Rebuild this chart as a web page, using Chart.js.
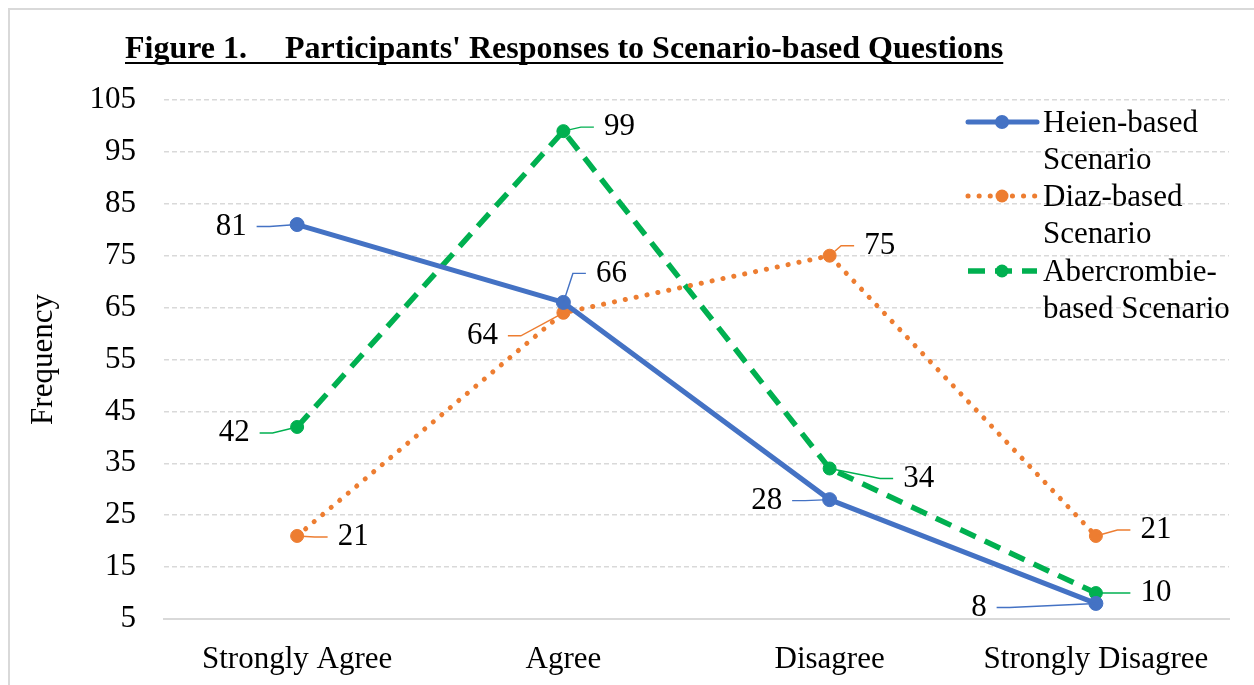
<!DOCTYPE html>
<html>
<head>
<meta charset="utf-8">
<script src="https://cdn.jsdelivr.net/npm/chart.js@4.4.1/dist/chart.umd.min.js"></script>
<style>
body{margin:0;background:#fff}
</style>
</head>
<body>
<canvas id="chart" width="1254" height="685"></canvas>
<script>
// data
const categories = ['Strongly Agree','Agree','Disagree','Strongly Disagree']
const heien = [81,66,28,8]
const diaz = [21,64,75,21]
const abercrombie = [42,99,34,10]
const seriesNames = [
    ['Heien-based','Scenario'],
    ['Diaz-based','Scenario'],
    ['Abercrombie-','based Scenario']
]
const yMin = 5
const yMax = 105
const yStep = 10
const titleLeft = 'Figure 1.'
const titleRight = "Participants' Responses to Scenario-based Questions"
const yTitle = 'Frequency'

// styling
const serif = "'Liberation Serif', 'Times New Roman', serif"
const colors = ['#4472C4','#ED7D31','#00B050']
const dashes = [[], [0.1,11], [17,10]]
const caps = ['round','round','butt']
const widths = [5,5,5.5]
const radii = [7,6.5,6.5]

// where each value label sits relative to its point (px)
const labelOffsets = [
    [[-66,2],[48,-29],[-63,1],[-117,4]],
    [[56,1],[-81,23],[50,-10],[60,-6]],
    [[-63,6],[56,-4],[89,10],[60,0]]
]

function makeSet(i, values){
    return {
        label: seriesNames[i].join(' '),
        data: values,
        borderColor: colors[i],
        backgroundColor: colors[i],
        borderWidth: widths[i],
        borderDash: dashes[i],
        borderCapStyle: caps[i],
        borderJoinStyle: 'round',
        pointRadius: radii[i],
        pointBackgroundColor: colors[i],
        pointBorderColor: colors[i],
        pointBorderWidth: 1,
        tension: 0
    }
}

const decorations = {
    id: 'decorations',
    beforeDraw(chart){
        const ctx = chart.ctx
        ctx.save()
        ctx.fillStyle = '#fff'
        ctx.fillRect(0,0,chart.width,chart.height)
        ctx.strokeStyle = '#d9d9d9'
        ctx.lineWidth = 2
        ctx.strokeRect(9,9,chart.width+20,chart.height+20)
        ctx.restore()
    },
    afterDatasetsDraw(chart){
        const ctx = chart.ctx
        const area = chart.chartArea
        ctx.save()

        // title
        ctx.fillStyle = '#000'
        ctx.font = 'bold 32px ' + serif
        ctx.textBaseline = 'alphabetic'
        ctx.textAlign = 'left'
        ctx.fillText(titleLeft, 125, 58)
        ctx.fillText(titleRight, 285, 58)
        const titleEnd = 285 + ctx.measureText(titleRight).width
        ctx.fillRect(125, 62, titleEnd - 125, 2)

        // y axis title
        ctx.font = '31px ' + serif
        ctx.translate(44, (area.top + area.bottom) / 2)
        ctx.rotate(-Math.PI / 2)
        ctx.textAlign = 'center'
        ctx.textBaseline = 'middle'
        ctx.fillText(yTitle, 0, 0)
        ctx.setTransform(1,0,0,1,0,0)

        // value labels with leader lines
        ctx.font = '31px ' + serif
        chart.data.datasets.forEach((ds, i) => {
            const meta = chart.getDatasetMeta(i)
            meta.data.forEach((p, j) => {
                const text = String(ds.data[j])
                const off = labelOffsets[i][j]
                const lx = p.x + off[0]
                const ly = p.y + off[1]
                const w = ctx.measureText(text).width
                const side = off[0] > 0 ? -1 : 1
                const edge = lx + side * (w / 2 + 10)
                const knee = edge + side * 13
                ctx.strokeStyle = colors[i]
                ctx.lineWidth = 1.4
                ctx.setLineDash([])
                ctx.beginPath()
                ctx.moveTo(edge, ly)
                ctx.lineTo(knee, ly)
                ctx.lineTo(p.x, p.y)
                ctx.stroke()
                ctx.fillStyle = '#000'
                ctx.textAlign = 'center'
                ctx.textBaseline = 'middle'
                ctx.fillText(text, lx, ly)
            })
        })

        // legend
        const rows = [122,196,271]
        seriesNames.forEach((names, i) => {
            const y = rows[i]
            ctx.strokeStyle = colors[i]
            ctx.lineWidth = widths[i]
            ctx.lineCap = caps[i]
            ctx.setLineDash(dashes[i])
            ctx.beginPath()
            ctx.moveTo(968, y)
            ctx.lineTo(1037, y)
            ctx.stroke()
            ctx.setLineDash([])
            ctx.fillStyle = colors[i]
            ctx.beginPath()
            ctx.arc(1002, y, radii[i], 0, Math.PI * 2)
            ctx.fill()
            ctx.fillStyle = '#000'
            ctx.textAlign = 'left'
            ctx.textBaseline = 'middle'
            names.forEach((n, k) => {
                ctx.fillText(n, 1043, y + 2 + k * 37)
            })
        })

        ctx.restore()
    }
}

new Chart(
    document.getElementById('chart'),
    {
        type: 'line',
        data: {
            labels: categories,
            datasets: [
                makeSet(0, heien),
                makeSet(1, diaz),
                makeSet(2, abercrombie)
            ]
        },
        options: {
            responsive: false,
            animation: false,
            devicePixelRatio: 1,
            layout: {
                padding: {top: 100, left: 20, right: 25, bottom: 0}
            },
            plugins: {
                legend: {display: false},
                tooltip: {enabled: false}
            },
            scales: {
                x: {
                    offset: true,
                    grid: {display: false, drawTicks: false},
                    border: {color: '#d9d9d9', width: 2},
                    ticks: {
                        color: '#000',
                        font: {family: serif, size: 31},
                        padding: 22,
                        maxRotation: 0,
                        autoSkip: false
                    },
                    afterFit: s => { s.height = 66 }
                },
                y: {
                    min: yMin,
                    max: yMax,
                    ticks: {
                        stepSize: yStep,
                        color: '#000',
                        font: {family: serif, size: 31},
                        padding: 28
                    },
                    grid: {color: '#d9d9d9', lineWidth: 1.5, drawTicks: false},
                    border: {display: false, dash: [5,3]},
                    afterFit: s => { s.width = 144 }
                }
            }
        },
        plugins: [decorations]
    }
)
</script>
</body>
</html>
